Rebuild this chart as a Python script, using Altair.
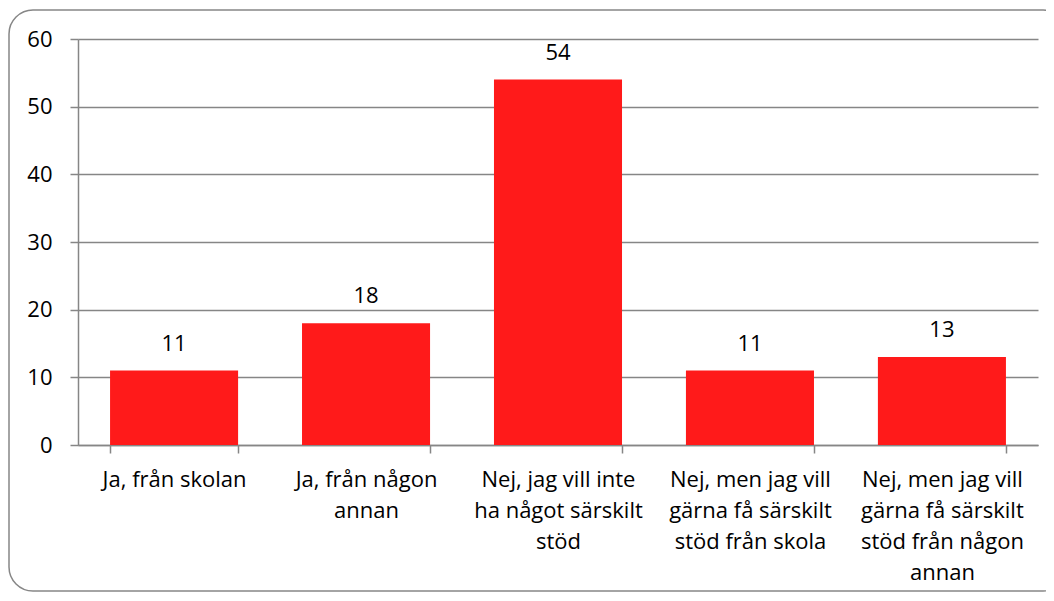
import altair as alt
import pandas as pd

categories = [
    "Ja, från skolan",
    "Ja, från någon\nannan",
    "Nej, jag vill inte\nha något särskilt\nstöd",
    "Nej, men jag vill\ngärna få särskilt\nstöd från skola",
    "Nej, men jag vill\ngärna få särskilt\nstöd från någon\nannan",
]
values = [11, 18, 54, 11, 13]

df = pd.DataFrame({"cat": categories, "val": values})

FONT = "Open Sans"
GRAY = "#868686"
FS = 22

x = alt.X(
    "cat:N",
    sort=categories,
    title=None,
    scale=alt.Scale(paddingInner=0.333, paddingOuter=0.167),
    axis=alt.Axis(
        labelExpr="split(datum.label, '\\n')",
        labelAngle=0,
        labelFontSize=FS,
        labelFont=FONT,
        labelColor="black",
        labelLineHeight=31,
        labelPadding=16,
        labelLimit=300,
        tickBand="extent",
        tickSize=8,
        tickColor=GRAY,
        tickWidth=1.5,
        domainColor=GRAY,
        domainWidth=1.5,
        grid=False,
    ),
)

y = alt.Y(
    "val:Q",
    title=None,
    scale=alt.Scale(domain=[0, 60]),
    axis=alt.Axis(
        values=[0, 10, 20, 30, 40, 50, 60],
        labelFontSize=FS,
        labelFont=FONT,
        labelColor="black",
        labelPadding=18,
        tickSize=8,
        tickColor=GRAY,
        tickWidth=1.5,
        domainColor=GRAY,
        domainWidth=1.5,
        gridColor=GRAY,
        gridWidth=1.5,
    ),
)

base = alt.Chart(df)

bars = base.mark_bar(color="#FF1A1A").encode(x=x, y=y)
labels = base.mark_text(
    baseline="alphabetic", dy=-20, fontSize=FS, font=FONT, color="black"
).encode(x=x, y=y, text="val:Q")

border = base.mark_rect(
    fill=None, stroke=GRAY, strokeWidth=1.5, cornerRadius=24, clip=False
).encode(
    x=alt.value(-69), x2=alt.value(989), y=alt.value(-29), y2=alt.value(552)
).transform_filter("datum.val == 11 && datum.cat == 'Ja, från skolan'")

chart = (
    alt.layer(border, bars, labels)
    .properties(
        width=960,
        height=406,
        autosize=alt.AutoSizeParams(type="none"),
        padding={"left": 70, "top": 31, "right": 8, "bottom": 147},
        background="white",
    )
    .configure_view(stroke=None)
)

chart.save("out.html", embed_options={"renderer": "svg", "actions": False})
